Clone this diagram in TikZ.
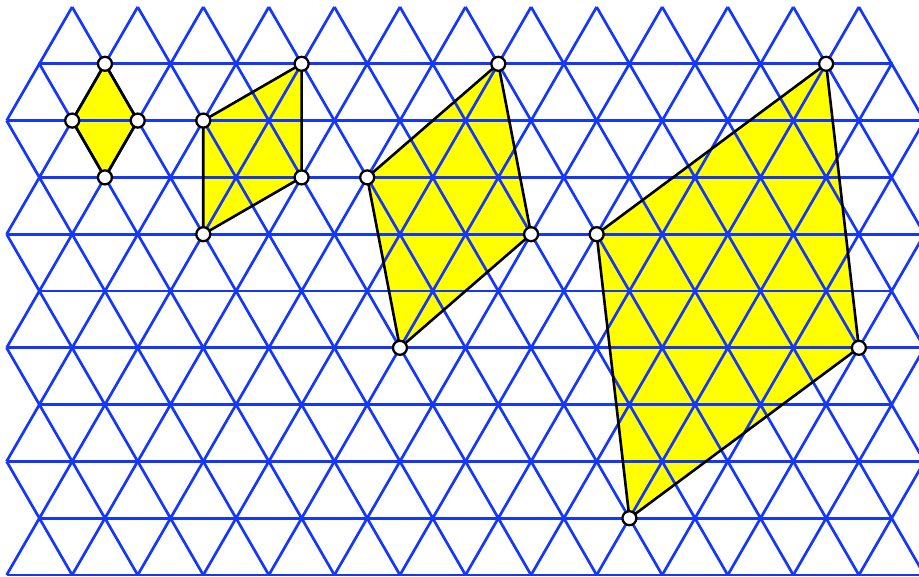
\documentclass[tikz,border=0pt]{standalone}
\definecolor{gridblue}{RGB}{20,55,250}
\definecolor{fillyellow}{RGB}{255,255,0}
\tikzset{
  gridline/.style={draw=gridblue, line width=2.7pt},
  shapefill/.style={fill=fillyellow},
  shapeedge/.style={draw=black, line width=2.6pt, line join=round},
  latticedot/.style={circle, draw=black, fill=white, line width=2.3pt, minimum size=14pt, inner sep=0pt}
}
\begin{document}
\begin{tikzpicture}[x=32.78pt, y=-56.8pt]
\useasboundingbox (-0.2013,-0.1232) rectangle (27.834,10.035);
% polygon vertices
\coordinate (a1) at (3,1); \coordinate (a2) at (4,2); \coordinate (a3) at (3,3); \coordinate (a4) at (2,2);
\coordinate (b1) at (6,2); \coordinate (b2) at (9,1); \coordinate (b3) at (9,3); \coordinate (b4) at (6,4);
\coordinate (c1) at (11,3); \coordinate (c2) at (15,1); \coordinate (c3) at (16,4); \coordinate (c4) at (12,6);
\coordinate (d1) at (18,4); \coordinate (d2) at (25,1); \coordinate (d3) at (26,6); \coordinate (d4) at (19,9);
% fills
\foreach \s in {a,b,c,d} {\fill[shapefill] (\s1) -- (\s2) -- (\s3) -- (\s4) -- cycle;}
% horizontal grid lines
\foreach \r in {1,3,5,7,9} {\draw[gridline] (1,\r) -- (27,\r);}
\foreach \r in {2,4,6,8,10} {\draw[gridline] (0,\r) -- (28,\r);}
% diagonal segments: every odd-row point (m odd) joins the even-row points m-1, m+1 above and below
\foreach \r in {1,3,5,7,9} {
  \foreach \m in {1,3,...,27} {
    \pgfmathtruncatemacro{\rb}{\r+1}
    \pgfmathtruncatemacro{\ra}{\r-1}
    \pgfmathtruncatemacro{\ml}{\m-1}
    \pgfmathtruncatemacro{\mr}{\m+1}
    \draw[gridline] (\ml,\rb) -- (\m,\r) -- (\mr,\rb);
    \ifnum\r=1
      \ifnum\ml>0 \draw[gridline] (\m,\r) -- (\ml,\ra); \fi
      \ifnum\mr<28 \draw[gridline] (\m,\r) -- (\mr,\ra); \fi
    \else
      \draw[gridline] (\ml,\ra) -- (\m,\r) -- (\mr,\ra);
    \fi
  }
}
% outlines
\foreach \s in {a,b,c,d} {\draw[shapeedge] (\s1) -- (\s2) -- (\s3) -- (\s4) -- cycle;}
% dots
\foreach \p in {a1,a2,a3,a4,b1,b2,b3,b4,c1,c2,c3,c4,d1,d2,d3,d4}
  {\node[latticedot] (n\p) at (\p) {};}
\end{tikzpicture}
\end{document}
